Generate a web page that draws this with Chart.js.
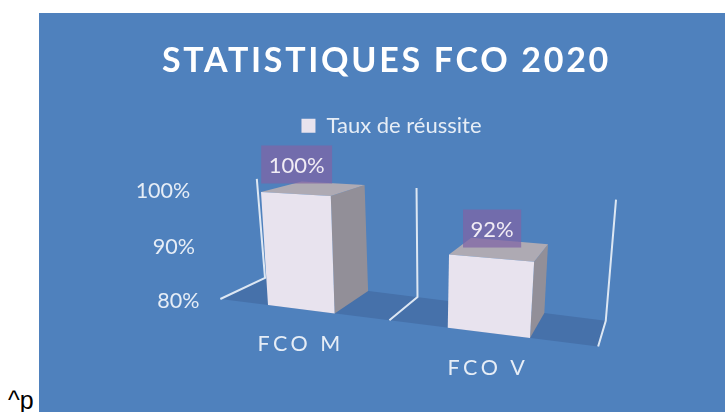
<!DOCTYPE html>
<html>
<head>
<meta charset="utf-8">
<style>
  html, body { margin: 0; background: #fff; overflow: hidden; }
  #panel { position: absolute; left: 39px; top: 13px; width: 686px; height: 399px; background: #4f81bd; }
  #note { position: absolute; left: 8px; top: 386px; font: 25px "Liberation Sans", sans-serif; color: #000; }
</style>
<script src="https://cdn.jsdelivr.net/npm/chart.js@4"></script>
</head>
<body>
<div id="panel"><canvas id="c" width="686" height="399"></canvas></div>
<div id="note">^p</div>
<script>
const categories = ['FCO M', 'FCO V'];
const seriesName = 'Taux de réussite';
const values = [100, 92];
const baseValue = 80;
const titleText = 'STATISTIQUES FCO 2020';

const FACE = '#e8e3ee', SIDE = '#928f98', TOP = '#aeaab3';
const FLOOR = '#4671aa', LINE = '#dde7f3', TEXT = '#e6edf6';
const PURPLE = 'rgba(128,100,165,0.72)';
const FONT = 'Lato, sans-serif';
const BAR_PCT = 0.395;

// camera: where the front plane of the plot lands on the canvas (80% and 100%
// at the outer bar edges), plus vanishing point and depth for the 3D look
const camera = [[229, 292], [491, 325], [498, 195], [222, 179]];
const vanish = [637, 71];
const depth = 0.098;

function homography(q){
  const [[x0,y0],[x1,y1],[x2,y2],[x3,y3]] = q;
  const dx1 = x1-x2, dx2 = x3-x2, sx = x0-x1+x2-x3;
  const dy1 = y1-y2, dy2 = y3-y2, sy = y0-y1+y2-y3;
  const det = dx1*dy2 - dx2*dy1;
  const g = (sx*dy2 - dx2*sy)/det, h = (dx1*sy - sx*dy1)/det;
  return {a:x1-x0+g*x1, b:x3-x0+h*x3, c:x0, d:y1-y0+g*y1, e:y3-y0+h*y3, f:y0, g, h};
}
const H = homography(camera);

// plot pixel -> canvas point on the front plane
function project(chart, px, py){
  const area = chart.chartArea, y = chart.scales.y;
  const u0 = 0.25 - BAR_PCT/4, u1 = 0.75 + BAR_PCT/4;
  const s = ((px - area.left)/area.width - u0)/(u1 - u0);
  const b = y.getPixelForValue(y.min), t = y.getPixelForValue(y.max);
  const v = (b - py)/(b - t);
  const w = H.g*s + H.h*v + 1;
  return [(H.a*s + H.b*v + H.c)/w, (H.d*s + H.e*v + H.f)/w];
}
const back = p => [p[0] + depth*(vanish[0]-p[0]), p[1] + depth*(vanish[1]-p[1])];

function poly(ctx, pts, color){
  ctx.fillStyle = color;
  ctx.beginPath();
  pts.forEach((p,i)=> i ? ctx.lineTo(p[0],p[1]) : ctx.moveTo(p[0],p[1]));
  ctx.closePath();
  ctx.fill();
}

const bars3d = {
  id: 'bars3d',
  afterLayout(chart){
    // title only gets the wide spacing, legend stays normal
    const box = chart.titleBlock;
    if(box.__wrapped) return;
    const draw = box.draw;
    box.draw = function(){
      const ctx = chart.ctx;
      ctx.save();
      ctx.translate(-5, 0);
      ctx.letterSpacing = '2.7px';
      draw.apply(box, arguments);
      ctx.restore();
    };
    box.__wrapped = true;
  },
  beforeDatasetDraw(chart){
    const ctx = chart.ctx, area = chart.chartArea;
    const yb = chart.scales.y.getPixelForValue(chart.scales.y.min);
    const yt = chart.scales.y.getPixelForValue(chart.scales.y.max);
    ctx.save();
    // floor
    const fl = project(chart, area.left, yb), fr = project(chart, area.right, yb);
    poly(ctx, [fl, fr, back(fr), back(fl)], FLOOR);
    // category walls
    ctx.strokeStyle = LINE;
    ctx.lineWidth = 2;
    [area.left, (area.left+area.right)/2, area.right].forEach(x=>{
      const f = project(chart, x, yb), b = back(f), t = back(project(chart, x, yt));
      ctx.beginPath();
      ctx.moveTo(f[0],f[1]); ctx.lineTo(b[0],b[1]); ctx.lineTo(t[0],t[1]);
      ctx.stroke();
    });
    // bars
    chart.getDatasetMeta(0).data.forEach(el=>{
      const l = el.x - el.width/2, r = el.x + el.width/2;
      const a = project(chart, l, el.base), b = project(chart, r, el.base);
      const c = project(chart, r, el.y), d = project(chart, l, el.y);
      poly(ctx, [b, c, back(c), back(b)], SIDE);
      poly(ctx, [d, c, back(c), back(d)], TOP);
      poly(ctx, [a, b, c, d], FACE);
    });
    ctx.restore();
    return false;
  },
  afterDatasetsDraw(chart){
    const ctx = chart.ctx, area = chart.chartArea;
    const x = chart.scales.x, y = chart.scales.y;
    ctx.save();
    ctx.textBaseline = 'middle';
    ctx.fillStyle = TEXT;
    // value axis labels
    ctx.font = '21.5px ' + FONT;
    ctx.textAlign = 'right';
    y.ticks.forEach(t=>{
      const p = project(chart, area.left, y.getPixelForValue(t.value));
      ctx.fillText(t.label, p[0] - 21, p[1] + 2);
    });
    // category labels
    ctx.textAlign = 'center';
    ctx.letterSpacing = '3.5px';
    chart.getDatasetMeta(0).data.forEach((el,i)=>{
      const p = project(chart, el.x, el.base);
      ctx.fillText(x.getLabelForValue(i), p[0], p[1] + 35);
    });
    ctx.letterSpacing = '0px';
    // data labels
    chart.getDatasetMeta(0).data.forEach((el,i)=>{
      const p = project(chart, el.x, el.y);
      const label = values[i] + '%';
      ctx.font = '22px ' + FONT;
      const w = ctx.measureText(label).width + 15;
      ctx.fillStyle = PURPLE;
      ctx.fillRect(p[0]+1.5-w/2, p[1]-29.5-19, w, 38);
      ctx.fillStyle = '#f1ecf5';
      ctx.fillText(label, p[0]+1.5, p[1]-28.5);
    });
    ctx.restore();
  }
};

new Chart(document.getElementById('c'), {
  type: 'bar',
  data: {
    labels: categories,
    datasets: [{ label: seriesName, data: values, base: baseValue, backgroundColor: FACE, barPercentage: BAR_PCT, categoryPercentage: 1 }]
  },
  options: {
    responsive: false,
    animation: false,
    layout: { padding: { left: 19, top: 28, bottom: 20, right: 0 } },
    plugins: {
      title: { display: true, text: titleText, color: '#fff', font: { family: FONT, size: 34, weight: 'bold' }, padding: { top: 0, bottom: 27 } },
      legend: { position: 'top', labels: { color: TEXT, boxWidth: 14, boxHeight: 14, padding: 6, font: { family: FONT, size: 22 } } },
      tooltip: { enabled: false }
    },
    scales: {
      x: { grid: { display: false }, border: { display: false }, ticks: { display: false } },
      y: {
        min: baseValue, max: 100,
        grid: { display: false }, border: { display: false },
        ticks: { display: false, stepSize: 10, callback: v => v + '%' }
      }
    }
  },
  plugins: [bars3d]
});
</script>
</body>
</html>
